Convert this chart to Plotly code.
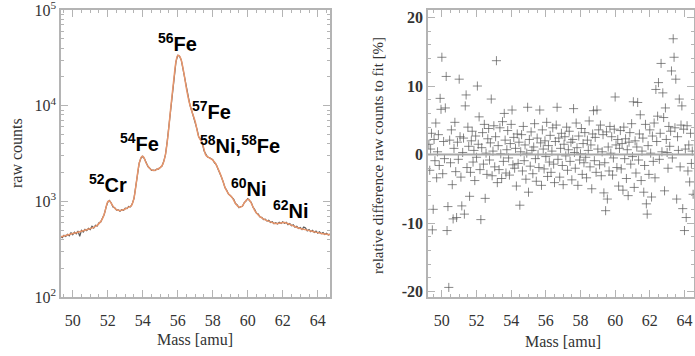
import plotly.graph_objects as go

# ---------------- data: left panel (mass spectrum) ----------------
fit_mass = [49.3, 49.6, 50.0, 50.4, 50.8, 51.2, 51.5, 51.7, 51.85, 52.0, 52.1, 52.25, 52.45, 52.7, 52.9,
            53.15, 53.35, 53.5, 53.65, 53.8, 53.95, 54.05, 54.2, 54.4, 54.6, 54.8, 55.0, 55.15, 55.3,
            55.45, 55.6, 55.75, 55.9, 56.0, 56.1, 56.2, 56.35, 56.5, 56.65, 56.8, 57.0, 57.2, 57.4,
            57.6, 57.8, 58.0, 58.15, 58.3, 58.5, 58.7, 58.9, 59.1, 59.3, 59.5, 59.65, 59.8, 59.95,
            60.05, 60.2, 60.4, 60.6, 60.8, 61.0, 61.3, 61.6, 61.9, 62.1, 62.4, 62.7, 63.0, 63.4,
            63.8, 64.2, 64.7]
fit_counts = [425, 440, 460, 480, 505, 535, 585, 660, 790, 990, 1010, 920, 830, 800, 815,
              860, 900, 1080, 1650, 2500, 2950, 2900, 2500, 2200, 2100, 2150, 2250, 2450, 3100,
              5000, 9500, 17000, 29000, 33500, 33000, 30000, 22000, 15000, 11000, 8800, 6800, 4700, 4100,
              3050, 2850, 2700, 2500, 2200, 1800, 1400, 1200, 1100, 950, 870, 880, 960, 1040,
              1050, 960, 800, 720, 670, 640, 610, 585, 595, 600, 575, 545, 520, 500,
              480, 462, 448]

raw_mass = [49.3, 49.4, 49.5, 49.6, 49.7, 49.8, 49.9, 50.0, 50.1, 50.2, 50.3, 50.4, 50.5, 50.6, 50.7,
            50.8, 50.9, 51.0, 51.1, 51.2, 51.3, 51.4, 51.5, 51.6, 51.7, 51.8, 51.9, 52.0, 52.1, 52.2,
            52.3, 52.4, 52.5, 52.6, 52.7, 52.8, 52.9, 53.0, 53.1, 53.2, 53.3, 53.4, 53.5, 53.6, 53.7,
            53.8, 53.9, 54.0, 54.1, 54.2, 54.3, 54.4, 54.5, 54.6, 54.7, 54.8, 54.9, 55.0, 55.1, 55.2,
            55.3, 55.4, 55.5, 55.6, 55.7, 55.8, 55.9, 56.0, 56.1, 56.2, 56.3, 56.4, 56.5, 56.6, 56.7,
            56.8, 56.9, 57.0, 57.1, 57.2, 57.3, 57.4, 57.5, 57.6, 57.7, 57.8, 57.9, 58.0, 58.1, 58.2,
            58.3, 58.4, 58.5, 58.6, 58.7, 58.8, 58.9, 59.0, 59.1, 59.2, 59.3, 59.4, 59.5, 59.6, 59.7,
            59.8, 59.9, 60.0, 60.1, 60.2, 60.3, 60.4, 60.5, 60.6, 60.7, 60.8, 60.9, 61.0, 61.1, 61.2,
            61.3, 61.4, 61.5, 61.6, 61.7, 61.8, 61.9, 62.0, 62.1, 62.2, 62.3, 62.4, 62.5, 62.6, 62.7,
            62.8, 62.9, 63.0, 63.1, 63.2, 63.3, 63.4, 63.5, 63.6, 63.7, 63.8, 63.9, 64.0, 64.1, 64.2,
            64.3, 64.4, 64.5, 64.6, 64.7]
raw_counts = [432, 418, 441, 429, 452, 437, 470, 448, 476, 458, 489, 432, 497, 478, 510,
              494, 521, 507, 548, 526, 561, 552, 596, 608, 671, 728, 862, 978, 1021, 962,
              872, 858, 808, 816, 789, 818, 806, 846, 839, 884, 878, 942, 1070, 1465, 1930,
              2520, 2830, 2960, 2780, 2520, 2310, 2220, 2110, 2120, 2100, 2170, 2175, 2265, 2330, 2620,
              3080, 4230, 6060, 9560, 13900, 20600, 28900, 33600, 32900, 30100, 24400, 19600, 14900, 12300, 10100,
              8850, 7650, 6830, 5680, 4720, 4330, 4120, 3380, 3070, 2910, 2870, 2760, 2720, 2530, 2420,
              2180, 2000, 1785, 1595, 1390, 1305, 1188, 1152, 1088, 1052, 948, 918, 858, 884, 889,
              972, 1008, 1066, 1018, 975, 868, 822, 751, 736, 686, 681, 646, 652, 621, 633,
              601, 612, 583, 598, 579, 603, 588, 612, 589, 603, 571, 586, 556, 568, 537,
              549, 521, 534, 508, 538, 526, 491, 507, 481, 497, 473, 489, 466, 481, 458,
              471, 450, 463, 445, 455]

peak_labels = ["<sup>56</sup>Fe", "<sup>57</sup>Fe", "<sup>54</sup>Fe", "<sup>58</sup>Ni,<sup>58</sup>Fe",
               "<sup>52</sup>Cr", "<sup>60</sup>Ni", "<sup>62</sup>Ni"]
peak_label_mass = [55.96, 57.91, 53.79, 59.57, 52.02, 60.07, 62.47]
peak_label_log = [4.66, 3.95, 3.62, 3.59, 3.19, 3.14, 2.91]

# ---------------- data: right panel (residuals, %) ----------------
resid_mass = [
    49.25, 49.30, 49.35, 49.40, 49.45, 49.50, 49.55, 49.60, 49.65, 49.70, 49.75, 49.80, 49.85, 49.90, 49.95, 50.00, 50.05, 50.10, 50.15, 50.20,
    50.25, 50.30, 50.35, 50.40, 50.45, 50.50, 50.55, 50.60, 50.65, 50.70, 50.75, 50.80, 50.85, 50.90, 50.95, 51.00, 51.05, 51.10, 51.15, 51.20,
    51.25, 51.30, 51.35, 51.40, 51.45, 51.50, 51.55, 51.60, 51.65, 51.70, 51.75, 51.80, 51.85, 51.90, 51.95, 52.00, 52.05, 52.10, 52.15, 52.20,
    52.25, 52.30, 52.35, 52.40, 52.45, 52.50, 52.55, 52.60, 52.65, 52.70, 52.75, 52.80, 52.85, 52.90, 52.95, 53.00, 53.05, 53.10, 53.15, 53.20,
    53.25, 53.30, 53.35, 53.40, 53.45, 53.50, 53.55, 53.60, 53.65, 53.70, 53.75, 53.80, 53.85, 53.90, 53.95, 54.00, 54.05, 54.10, 54.15, 54.20,
    54.25, 54.30, 54.35, 54.40, 54.45, 54.50, 54.55, 54.60, 54.65, 54.70, 54.75, 54.80, 54.85, 54.90, 54.95, 55.00, 55.05, 55.10, 55.15, 55.20,
    55.25, 55.30, 55.35, 55.40, 55.45, 55.50, 55.55, 55.60, 55.65, 55.70, 55.75, 55.80, 55.85, 55.90, 55.95, 56.00, 56.05, 56.10, 56.15, 56.20,
    56.25, 56.30, 56.35, 56.40, 56.45, 56.50, 56.55, 56.60, 56.65, 56.70, 56.75, 56.80, 56.85, 56.90, 56.95, 57.00, 57.05, 57.10, 57.15, 57.20,
    57.25, 57.30, 57.35, 57.40, 57.45, 57.50, 57.55, 57.60, 57.65, 57.70, 57.75, 57.80, 57.85, 57.90, 57.95, 58.00, 58.05, 58.10, 58.15, 58.20,
    58.25, 58.30, 58.35, 58.40, 58.45, 58.50, 58.55, 58.60, 58.65, 58.70, 58.75, 58.80, 58.85, 58.90, 58.95, 59.00, 59.05, 59.10, 59.15, 59.20,
    59.25, 59.30, 59.35, 59.40, 59.45, 59.50, 59.55, 59.60, 59.65, 59.70, 59.75, 59.80, 59.85, 59.90, 59.95, 60.00, 60.05, 60.10, 60.15, 60.20,
    60.25, 60.30, 60.35, 60.40, 60.45, 60.50, 60.55, 60.60, 60.65, 60.70, 60.75, 60.80, 60.85, 60.90, 60.95, 61.00, 61.05, 61.10, 61.15, 61.20,
    61.25, 61.30, 61.35, 61.40, 61.45, 61.50, 61.55, 61.60, 61.65, 61.70, 61.75, 61.80, 61.85, 61.90, 61.95, 62.00, 62.05, 62.10, 62.15, 62.20,
    62.25, 62.30, 62.35, 62.40, 62.45, 62.50, 62.55, 62.60, 62.65, 62.70, 62.75, 62.80, 62.85, 62.90, 62.95, 63.00, 63.05, 63.10, 63.15, 63.20,
    63.25, 63.30, 63.35, 63.40, 63.45, 63.50, 63.55, 63.60, 63.65, 63.70, 63.75, 63.80, 63.85, 63.90, 63.95, 64.00, 64.05, 64.10, 64.15, 64.20,
    64.25, 64.30, 64.35, 64.40, 64.45, 64.50]
resid_pct = [
    1.5, -2.3, 0.8, 3.1, -11.0, -8.0, 2.2, -0.9, 4.6, -3.4, 0.4, 2.9, -1.6, 8.2, 6.6, 14.2, -2.8, 1.9, -0.6, 6.8,
    11.4, -11.1, -7.6, -19.4, 2.1, -1.2, 3.6, -4.4, -9.4, 0.9, 4.7, -2.5, -9.2, 1.8, -0.7, 11.0, 2.6, -3.3, -7.5, 0.3,
    2.4, -8.7, 7.1, 8.7, -1.9, 4.0, 1.2, -6.1, -2.6, 2.0, 3.4, -1.1, 0.6, -3.8, 2.7, -0.4, 10.0, 1.5, 5.5, -2.2,
    -9.5, 1.0, 3.2, -1.4, 4.4, -6.4, 0.2, -2.9, 2.3, 3.8, -0.8, 1.7, 8.1, -3.1, 0.5, 4.2, -1.8, 2.6, 13.7, -4.1,
    1.3, -2.2, 3.9, 0.1, -3.5, 4.8, -1.0, 6.0, 2.1, -2.7, 0.7, 3.5, -0.5, -3.0, 1.6, 4.4, 6.5, -1.5, 2.5, -2.0,
    0.9, -4.6, 3.0, -1.3, 1.8, -7.4, 0.4, 2.9, -2.4, 4.1, -0.9, 1.4, -3.6, 0.2, 6.9, -5.5, 2.2, -1.7, 3.3, 0.6,
    -2.8, 1.1, 4.5, -0.6, -3.9, 2.4, 0.0, -1.9, 6.5, 1.7, -4.5, 3.6, 0.8, -2.1, 2.0, -0.3, 4.7, -3.2, 1.3, -1.1,
    2.8, -2.6, 0.5, 3.9, -1.4, -4.1, 1.9, 4.3, 6.9, -0.7, 2.4, -3.3, 0.9, 3.1, -1.6, -4.4, 1.5, 2.6, -0.2, 4.0,
    -2.3, 0.7, 3.4, -1.0, 1.8, -3.7, 2.2, 6.7, 0.3, -2.0, 4.6, 1.0, -4.5, 2.7, -0.8, 0.1, 3.8, -2.9, 1.6, -1.2,
    3.2, -0.4, -3.4, 2.1, 0.6, 4.9, -1.8, 1.4, -5.0, 3.0, 6.4, -0.9, 2.5, -2.6, 6.5, 0.8, 3.6, -1.5, 4.3, -3.1,
    0.4, 2.9, -5.6, -1.2, -8.2, 3.3, -6.5, 1.1, -2.4, 4.1, 0.2, 2.6, -3.0, -0.5, 3.7, 8.4, 1.4, -1.9, 2.2, -4.6,
    0.9, 3.5, -2.1, 1.6, -5.2, 4.0, -0.6, 2.3, -3.5, 0.7, -6.0, 1.8, 3.2, -1.4, 4.5, -0.3, 7.7, -4.8, 2.0, -2.7,
    1.1, 7.6, -0.8, 3.0, 5.8, -3.8, 0.5, 2.4, -5.5, -1.6, 4.4, -7.2, -8.7, 1.3, -2.9, 3.6, 0.2, -6.2, 2.7, -1.0,
    4.6, -3.4, 9.5, 1.9, 5.6, 10.5, -0.7, 3.1, 13.3, 0.4, 9.0, 5.4, -5.3, 6.8, 2.2, 0.3, -2.0, 4.1, 1.2, 3.4,
    12.2, -0.5, 16.9, 14.2, 3.9, 11.0, -6.5, 2.6, 0.6, 8.1, -1.8, 4.3, 7.1, -7.9, 3.7, -11.1, 0.8, -9.2, 4.2, -2.4,
    1.4, -4.0, 3.1, -1.3, 0.5, -5.8]

mass_ticks = [50, 52, 54, 56, 58, 60, 62, 64]
count_ticks = [100, 1000, 10000, 100000]
count_tick_text = ["10<sup>2</sup>", "10<sup>3</sup>", "10<sup>4</sup>", "10<sup>5</sup>"]
pct_ticks = [-20, -10, 0, 10, 20]

# ---------------- styling ----------------
W, H = 695, 356
ML, MR, MT, MB = 0, 0, 10, 59
FRAME = "#b4b4b4"
SERIF = "Liberation Serif"
SANS = "Liberation Sans"
ORANGE = "#e8956a"
TXT = "#333333"

fig = go.Figure()

fig.add_trace(go.Scatter(x=raw_mass, y=raw_counts, mode="lines",
                         line=dict(color="#5a5a5a", width=1.2),
                         xaxis="x", yaxis="y", showlegend=False))
fig.add_trace(go.Scatter(x=fit_mass, y=fit_counts, mode="lines",
                         line=dict(color=ORANGE, width=1.5, shape="spline", smoothing=0.8),
                         xaxis="x", yaxis="y", showlegend=False))

fig.add_trace(go.Scatter(x=resid_mass, y=resid_pct, mode="markers",
                         marker=dict(symbol="cross-thin", size=6.5,
                                     line=dict(width=1, color="rgba(85,85,85,0.7)")),
                         xaxis="x2", yaxis="y2", showlegend=False))

fig.add_shape(type="line", xref="x2 domain", yref="y2", x0=0, x1=1, y0=0, y1=0,
              line=dict(color="#a8a8a8", width=2))

minor_log = [k * 10 ** e for e in (2, 3, 4) for k in range(2, 10)]

common_x = dict(tickmode="array", tickvals=mass_ticks, ticks="inside", ticklen=7, tickcolor=FRAME,
                showline=True, linecolor=FRAME, linewidth=1.5, mirror="allticks", showgrid=False,
                zeroline=False, automargin=False, ticklabeloverflow="allow", ticklabelstandoff=8,
                tickfont=dict(family=SERIF, size=16, color=TXT),
                minor=dict(ticks="inside", ticklen=3, dtick=0.5, tick0=50, tickcolor=FRAME, showgrid=False))

fig.update_layout(
    width=W, height=H, margin=dict(l=ML, r=MR, t=MT, b=MB),
    paper_bgcolor="white", plot_bgcolor="white",
    xaxis=dict(domain=[61 / W, 330 / W], range=[49.33, 64.7], anchor="y", **common_x),
    yaxis=dict(type="log", range=[2, 5], domain=[0, 1], anchor="x",
               tickmode="array", tickvals=count_ticks, ticktext=count_tick_text,
               ticks="inside", ticklen=7, tickcolor=FRAME,
               showline=True, linecolor=FRAME, linewidth=1.5, mirror="allticks",
               showgrid=False, zeroline=False, automargin=False, ticklabeloverflow="allow",
               tickfont=dict(family=SERIF, size=16, color=TXT),
               minor=dict(ticks="inside", ticklen=3, tickvals=minor_log, tickcolor=FRAME, showgrid=False)),
    xaxis2=dict(domain=[428 / W, 694 / W], range=[49.2, 64.55], anchor="y2", **common_x),
    yaxis2=dict(range=[-20.8, 21.1], domain=[0, 1], anchor="x2",
                tickmode="array", tickvals=pct_ticks, ticktext=["<b>%d</b>" % v for v in pct_ticks],
                ticks="inside", ticklen=7, tickcolor=FRAME,
                showline=True, linecolor=FRAME, linewidth=1.5, mirror="allticks",
                showgrid=False, zeroline=False, automargin=False, ticklabeloverflow="allow",
                tickfont=dict(family=SERIF, size=16, color=TXT),
                minor=dict(ticks="inside", ticklen=3, dtick=2, tickcolor=FRAME, showgrid=False)),
)

# peak labels
for txt, m, lg in zip(peak_labels, peak_label_mass, peak_label_log):
    fig.add_annotation(x=m, y=lg, xref="x", yref="y", text="<b>%s</b>" % txt, showarrow=False,
                       font=dict(family=SANS, size=20, color="black"), xanchor="center", yanchor="middle")

plot_h = H - MT - MB
def py(px):
    return (H - MB - px) / plot_h

# axis titles
title_font = dict(family=SERIF, size=16, color=TXT)
fig.add_annotation(x=16 / W, y=py(153), xref="paper", yref="paper", text="raw counts", textangle=-90,
                   showarrow=False, font=title_font, xanchor="center", yanchor="middle")
fig.add_annotation(x=195 / W, y=py(340), xref="paper", yref="paper", text="Mass [amu]",
                   showarrow=False, font=title_font, xanchor="center", yanchor="middle")
fig.add_annotation(x=378 / W, y=py(156), xref="paper", yref="paper",
                   text="relative difference raw counts to fit [%]", textangle=-90,
                   showarrow=False, font=dict(family=SERIF, size=15, color=TXT),
                   xanchor="center", yanchor="middle")
fig.add_annotation(x=563 / W, y=py(341), xref="paper", yref="paper", text="Mass [amu]",
                   showarrow=False, font=title_font, xanchor="center", yanchor="middle")

fig.write_html("out.html", config={"displayModeBar": False},
               post_script="document.body.style.margin='0';document.body.style.overflow='hidden';")
